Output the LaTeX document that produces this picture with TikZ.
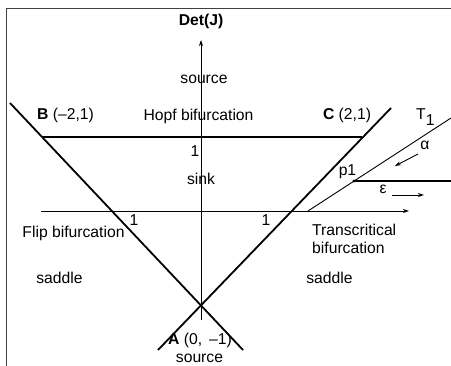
\documentclass[tikz,border=0pt]{standalone}
\usepackage{fontspec}
\setmainfont{Liberation Sans}
\usetikzlibrary{arrows.meta}
\begin{document}
\begin{tikzpicture}[x=1pt,y=-1pt,
  lbl/.style={inner sep=0pt,font=\fontsize{15.7}{18}\selectfont},
  thickline/.style={line width=1.8pt},
  thinline/.style={line width=0.9pt},
  arr/.style={-{Stealth[length=6pt,width=4pt]}}]
\useasboundingbox (0,0) rectangle (451,366);
% frame
\draw[line width=1.3pt,black!75] (6.5,366) -- (6.5,8.5) -- (451,8.5);
% points
\coordinate (A) at (201,305);
\coordinate (B) at (42,137);
\coordinate (C) at (362,137);
\coordinate (p1) at (354,181);
\coordinate (lt) at (10,103);
\coordinate (lb) at (243,350);
\coordinate (rb) at (158,350);
\coordinate (rt) at (391,108);
\coordinate (yb) at (201,320);
\coordinate (yt) at (201,40);
\coordinate (xl) at (41,211);
\coordinate (xr) at (409,211);
\coordinate (t0) at (308,211);
\coordinate (t1) at (451,118);
\coordinate (e1) at (451,181);
\coordinate (a0) at (418,154);
\coordinate (a1) at (395,166);
\coordinate (b0) at (392,195);
\coordinate (b1) at (424,195);
% axes
\draw[thinline,arr] (yb) -- (yt);
\draw[thinline,arr] (xl) -- (xr);
% thick lines
\draw[thickline] (lt) -- (lb);
\draw[thickline] (rb) -- (rt);
\draw[thickline] (B) -- (C);
\draw[thinline] (t0) -- (t1);
\draw[thickline] (p1) -- (e1);
\fill (p1) circle (1.6pt);
\draw[thinline,arr] (a0) -- (a1);
\draw[thinline,arr] (b0) -- (b1);
% labels
\node[lbl,font=\fontsize{15.7}{18}\selectfont\bfseries] (det) at (201,21) {Det(J)};
\node[lbl] (src1) at (204,79) {source};
\node[lbl] (hopf) at (198.5,116) {Hopf bifurcation};
\node[lbl] (Bl) at (65.5,115) {\textbf{B} (–2,1)};
\node[lbl] (Cl) at (347,115) {\textbf{C} (2,1)};
\node[lbl,anchor=base west] (T1) at (416,120) {T\raisebox{-0.65ex}{1}};
\node[lbl] (al) at (425,145) {α};
\node[lbl] (p1l) at (347.5,172) {p1};
\node[lbl] (ep) at (383,189) {ε};
\node[lbl] (one1) at (195,151) {1};
\node[lbl] (sink) at (201,179) {sink};
\node[lbl] (one2) at (134,220) {1};
\node[lbl] (one3) at (266,220) {1};
\node[lbl] (flip) at (73.5,233) {Flip bifurcation};
\node[lbl,anchor=west,align=left] (trans) at (312,238.5) {Transcritical\\bifurcation};
\node[lbl] (sadl) at (59.5,278) {saddle};
\node[lbl] (sadr) at (329.5,278) {saddle};
\node[lbl] (Al) at (200,340) {\textbf{A} (0,\, –1)};
\node[lbl] (src2) at (199.5,358) {source};
\end{tikzpicture}
\end{document}
